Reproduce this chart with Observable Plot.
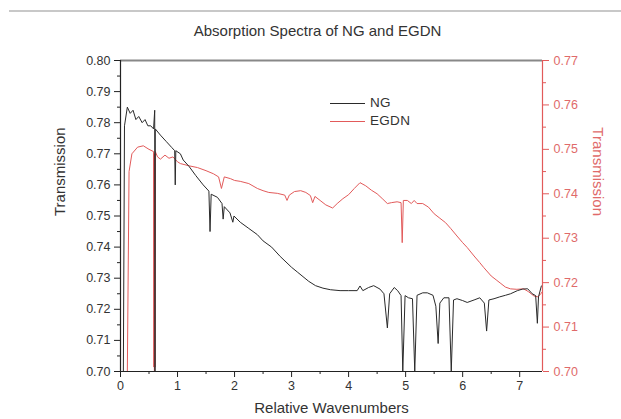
<!DOCTYPE html>
<html>
<head>
<meta charset="utf-8">
<script src="https://cdn.jsdelivr.net/npm/d3@7"></script>
<script src="https://cdn.jsdelivr.net/npm/@observablehq/plot@0.6"></script>
<style>
  html, body { margin: 0; padding: 0; background: #fff; }
  #wrap { position: relative; width: 621px; height: 419px; overflow: hidden; font-family: "Liberation Sans", Arial, sans-serif; }
  #topline { position: absolute; left: 9px; right: 0; top: 10px; border-top: 2px solid #c8c8c8; }
  #legend { position: absolute; left: 330px; top: 94px; font-size: 13.5px; color: #333; line-height: 18px; letter-spacing: 0.3px; }
  #legend div { display: flex; align-items: center; }
  #legend span.sw { display: inline-block; width: 35px; height: 0; border-top: 1px solid; margin-right: 5px; }
</style>
</head>
<body>
<div id="wrap"><div id="topline"></div></div>
<script>
// ---- data ----
const title = "Absorption Spectra of NG and EGDN";
const xLabel = "Relative Wavenumbers";
const yLabel = "Transmission";
const seriesNames = ["NG", "EGDN"];

const ngX = [0.05,0.07,0.12,0.17,0.22,0.27,0.32,0.38,0.43,0.48,0.53,0.58,0.60,0.605,0.61,0.7,0.8,0.9,0.95,0.96,0.97,1.05,1.1,1.2,1.32,1.45,1.55,1.57,1.59,1.7,1.78,1.8,1.82,1.92,1.97,1.99,2.1,2.25,2.4,2.5,2.65,2.8,3.0,3.1,3.2,3.3,3.42,3.55,3.68,3.85,4.0,4.15,4.2,4.25,4.35,4.44,4.55,4.62,4.68,4.72,4.8,4.86,4.92,4.95,4.99,5.05,5.12,5.16,5.2,5.3,5.38,5.48,5.53,5.57,5.6,5.67,5.76,5.8,5.84,5.9,6.0,6.08,6.2,6.3,6.38,6.42,6.46,6.55,6.65,6.75,6.84,6.96,7.05,7.14,7.22,7.28,7.31,7.33,7.38];
const ngY = [0.700,0.779,0.785,0.783,0.784,0.781,0.782,0.780,0.781,0.779,0.779,0.778,0.784,0.700,0.778,0.776,0.774,0.772,0.771,0.760,0.771,0.770,0.768,0.766,0.763,0.760,0.758,0.745,0.757,0.756,0.754,0.749,0.753,0.751,0.748,0.750,0.748,0.746,0.744,0.742,0.740,0.737,0.7335,0.732,0.7305,0.729,0.7276,0.7268,0.7263,0.726,0.726,0.726,0.7275,0.726,0.727,0.7276,0.7265,0.725,0.714,0.725,0.727,0.726,0.7244,0.700,0.7244,0.7237,0.7234,0.700,0.7245,0.7253,0.7253,0.7245,0.721,0.709,0.722,0.7237,0.7237,0.700,0.723,0.7234,0.7228,0.7222,0.723,0.7237,0.722,0.713,0.723,0.7234,0.724,0.7245,0.725,0.726,0.7265,0.7266,0.725,0.7244,0.7155,0.724,0.7275];

const egX = [0.12,0.15,0.2,0.3,0.4,0.5,0.58,0.585,0.59,0.595,0.60,0.605,0.61,0.65,0.7,0.78,0.85,0.92,1.0,1.05,1.2,1.35,1.5,1.63,1.72,1.77,1.82,1.93,2.0,2.1,2.25,2.4,2.5,2.6,2.75,2.88,2.92,2.96,3.05,3.16,3.25,3.33,3.37,3.41,3.5,3.6,3.72,3.8,3.9,4.0,4.1,4.2,4.3,4.4,4.5,4.6,4.68,4.75,4.85,4.92,4.94,4.96,5.03,5.1,5.15,5.2,5.3,5.4,5.5,5.6,5.7,5.79,5.9,6.0,6.08,6.2,6.3,6.37,6.5,6.6,6.67,6.75,6.84,6.95,7.07,7.15,7.25,7.32,7.37,7.4];
const egY = [0.700,0.745,0.749,0.7505,0.7508,0.750,0.7495,0.701,0.749,0.700,0.749,0.701,0.7495,0.7483,0.7478,0.7487,0.748,0.7483,0.7472,0.7468,0.7463,0.7459,0.7452,0.7445,0.7438,0.7412,0.7438,0.7434,0.743,0.7428,0.7423,0.7412,0.7407,0.7403,0.7401,0.7397,0.7385,0.7397,0.7405,0.7407,0.7403,0.7396,0.738,0.7394,0.7385,0.7375,0.7368,0.7378,0.7389,0.7398,0.7412,0.7425,0.7418,0.7408,0.740,0.7388,0.7378,0.738,0.7382,0.738,0.729,0.7385,0.7385,0.7378,0.7385,0.7378,0.7378,0.737,0.7355,0.7345,0.7335,0.7322,0.7305,0.729,0.7279,0.726,0.7245,0.7234,0.7215,0.7205,0.7198,0.719,0.7186,0.7185,0.7186,0.718,0.717,0.7168,0.7175,0.718];

const xDomain = [0, 7.4];
const leftDomain = [0.70, 0.80];
const rightDomain = [0.70, 0.77];
const xTicks = [0,1,2,3,4,5,6,7];
const xMinor = [0.5,1.5,2.5,3.5,4.5,5.5,6.5];
const leftTicks = [0.70,0.71,0.72,0.73,0.74,0.75,0.76,0.77,0.78,0.79,0.80];
const leftMinor = [0.705,0.715,0.725,0.735,0.745,0.755,0.765,0.775,0.785,0.795];
const rightTicks = [0.70,0.71,0.72,0.73,0.74,0.75,0.76,0.77];
const rightMinor = [0.705,0.715,0.725,0.735,0.745,0.755,0.765];

// ---- helpers ----
const red = "#e25a5a";
const redText = "#e06a6a";
const ink = "#333";
const k = (leftDomain[1]-leftDomain[0])/(rightDomain[1]-rightDomain[0]);
const toL = v => leftDomain[0] + (v - rightDomain[0]) * k;
const fromL = v => rightDomain[0] + (v - leftDomain[0]) / k;

const ng = ngX.map((x,i) => ({x, y: ngY[i]}));
const eg = egX.map((x,i) => ({x, y: toL(egY[i])}));

const chart = Plot.plot({
  width: 621, height: 419,
  marginTop: 60, marginLeft: 120, marginRight: 79, marginBottom: 48,
  style: {fontFamily: "Liberation Sans, Arial, sans-serif", fontSize: "12.5px", color: ink, background: "transparent"},
  x: {domain: xDomain},
  y: {domain: leftDomain},
  marks: [
    Plot.line(eg, {x: "x", y: "y", stroke: red, strokeWidth: 1}),
    Plot.line(ng, {x: "x", y: "y", stroke: "#2a2a2a", strokeWidth: 1}),
    // frame
    Plot.ruleY([leftDomain[1]], {stroke: "#888", strokeWidth: 2}),
    Plot.ruleX([xDomain[0]], {stroke: "#222", strokeWidth: 1.2}),
    Plot.ruleY([leftDomain[0]], {stroke: "#222", strokeWidth: 1.2}),
    Plot.ruleX([xDomain[1]], {stroke: red, strokeWidth: 1.2}),
    // axes
    Plot.axisX(xTicks, {tickSize: 6, tickPadding: 4, label: null, stroke: "#222", fill: ink, fontSize: 12.5}),
    Plot.axisX(xMinor, {tickSize: 3, tickFormat: () => "", label: null, stroke: "#222"}),
    Plot.axisY(leftTicks, {tickSize: 6, tickPadding: 4, tickFormat: d => d.toFixed(2), label: null, stroke: "#222", fill: ink, fontSize: 12.5}),
    Plot.axisY(leftMinor, {tickSize: 3, tickFormat: () => "", label: null, stroke: "#222"}),
    Plot.axisY(rightTicks.map(toL), {anchor: "right", tickSize: 6, tickPadding: 5, tickFormat: d => fromL(d).toFixed(2), label: null, stroke: red, fill: redText, fontSize: 12.5}),
    Plot.axisY(rightMinor.map(toL), {anchor: "right", tickSize: 3, tickFormat: () => "", label: null, stroke: red}),
    // texts
    Plot.text([title], {frameAnchor: "top", dx: -14, dy: -35, fontSize: 15, fill: ink, letterSpacing: "0.2px"}),
    Plot.text([xLabel], {frameAnchor: "bottom", dy: 41, fontSize: 15, fill: ink}),
    Plot.text([yLabel], {frameAnchor: "left", dx: -60, rotate: -90, fontSize: 15, fill: ink}),
    Plot.text([yLabel], {frameAnchor: "right", dx: 55, rotate: 90, fontSize: 15, fill: redText})
  ]
});

const wrap = document.getElementById("wrap");
chart.style.position = "absolute";
chart.style.left = "0";
chart.style.top = "0";
wrap.appendChild(chart);

const legend = document.createElement("div");
legend.id = "legend";
legend.innerHTML = `<div><span class="sw" style="border-color:#2a2a2a"></span>${seriesNames[0]}</div>` +
                   `<div><span class="sw" style="border-color:${red}"></span>${seriesNames[1]}</div>`;
wrap.appendChild(legend);
</script>
</body>
</html>
